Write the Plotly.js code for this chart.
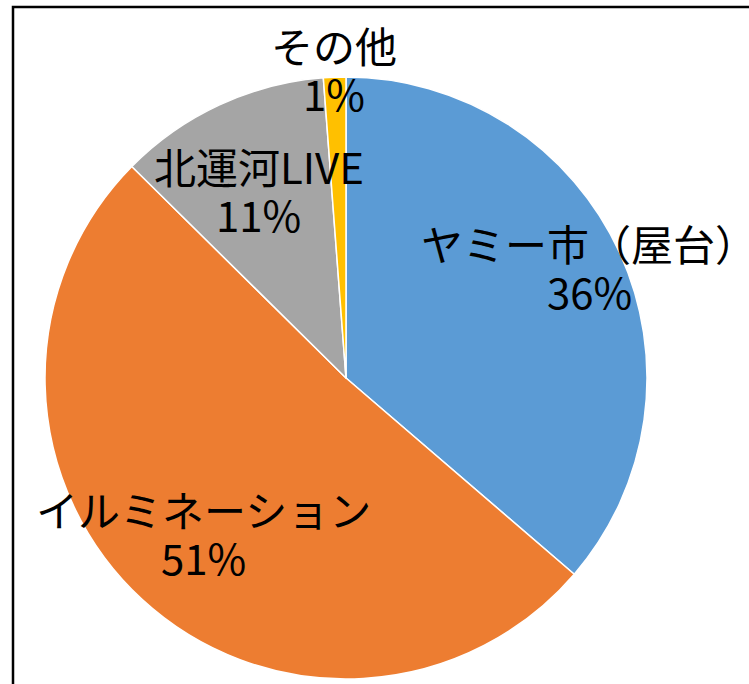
<!DOCTYPE html>
<html>
<head>
<meta charset="utf-8">
<script src="https://cdn.plot.ly/plotly-3.0.1.min.js"></script>
<style>html,body{margin:0;padding:0;background:#fff;}#chart{width:749px;height:684px;}</style>
</head>
<body>
<div id="chart"></div>
<script>
// ---- data ----
const categories = ["ヤミー市（屋台）", "イルミネーション", "北運河LIVE", "その他"];
const values = [36.3, 51.1, 11.4, 1.2];
const colors = ["#5B9BD5", "#ED7D31", "#A5A5A5", "#FFC000"];
// label placement as a fraction of the radius along each slice's mid-angle
const labelRadius = [0.89, 0.70, 0.69, 1.03];

const W = 749, H = 684;
const domX = [45 / W, 647 / W];
const domY = [5 / H, 607 / H];

const total = values.reduce((a, b) => a + b, 0);
const cx = (domX[0] + domX[1]) / 2 * W;
const cy = H - (domY[0] + domY[1]) / 2 * H;
const R = Math.min((domX[1] - domX[0]) * W, (domY[1] - domY[0]) * H) / 2;

const labelFont = {family: "'Noto Sans CJK JP', 'Noto Sans', sans-serif", size: 42, color: "#000"};
const halfGap = 24;

const annotations = [];
let cum = 0;
values.forEach((v, i) => {
  const mid = (cum + v / 2) / total * 2 * Math.PI; // clockwise from 12 o'clock
  cum += v;
  const px = cx + labelRadius[i] * R * Math.sin(mid);
  const py = cy - labelRadius[i] * R * Math.cos(mid);
  const pct = Math.round(v / total * 100);
  const base = {x: px / W, y: 1 - py / H, xref: "paper", yref: "paper",
    xanchor: "center", yanchor: "middle", showarrow: false, font: labelFont};
  annotations.push(Object.assign({}, base, {text: categories[i], yshift: halfGap}));
  annotations.push(Object.assign({}, base, {text: pct + "%", yshift: -halfGap}));
});

const trace = {
  type: "pie",
  labels: categories,
  values: values,
  sort: false,
  direction: "clockwise",
  rotation: 0,
  marker: {colors: colors, line: {color: "#ffffff", width: 1.5}},
  textinfo: "none",
  hoverinfo: "label+percent",
  domain: {x: domX, y: domY}
};

const layout = {
  width: W, height: H,
  margin: {l: 0, r: 0, t: 0, b: 0},
  paper_bgcolor: "#ffffff",
  showlegend: false,
  annotations: annotations,
  shapes: [{
    type: "rect", xref: "paper", yref: "paper",
    x0: 13 / W, x1: 1.05, y0: -0.05, y1: 1 - 7 / H,
    line: {color: "#000", width: 2.5}, fillcolor: "rgba(0,0,0,0)", layer: "above"
  }]
};

Plotly.newPlot("chart", [trace], layout, {displayModeBar: false, staticPlot: true});
</script>
</body>
</html>
